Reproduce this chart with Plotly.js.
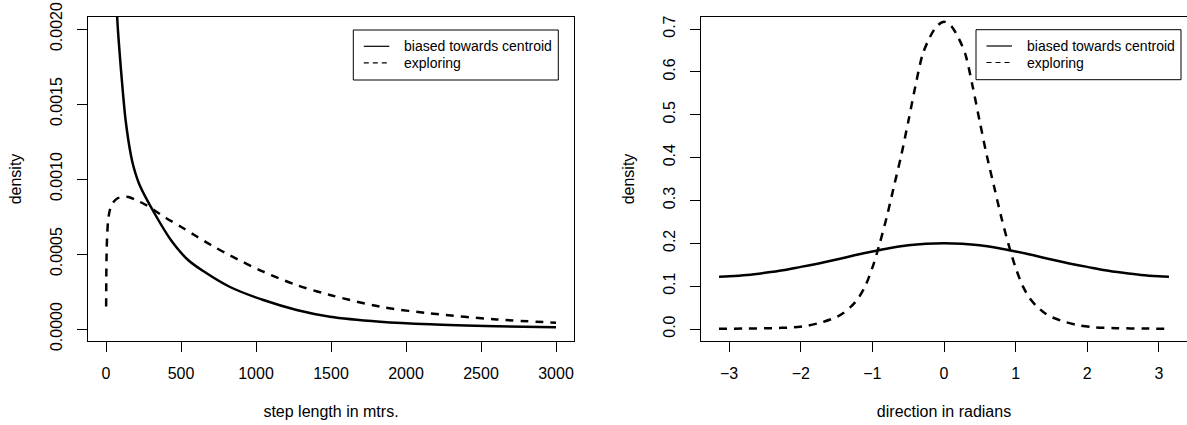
<!DOCTYPE html>
<html>
<head>
<meta charset="utf-8">
<script src="https://cdn.plot.ly/plotly-3.0.1.min.js"></script>
<style>
  html, body { margin: 0; padding: 0; background: #fff; }
  #chart { width: 1187px; height: 425px; }
</style>
</head>
<body>
<div id="chart"></div>
<script>
// ---- Left panel: step length densities ----
var stepBiasedX = [62, 75.5, 91, 109, 131, 164, 184, 224, 324, 435, 547, 658, 827, 1049, 1271, 1493, 1827, 2160, 2604, 3000];
var stepBiasedY = [0.00245, 0.00206, 0.00184, 0.00162, 0.00139, 0.00117, 0.00108, 0.00096, 0.00077, 0.00059, 0.00046, 0.00038, 0.00028, 0.000193, 0.000127, 0.000082, 0.000049, 0.000031, 0.000018, 0.000011];

var stepExploringX = [1, 2, 4, 8, 14, 25, 45, 75, 110, 150, 200, 260, 324, 400, 502, 600, 700, 827, 1049, 1271, 1493, 1827, 2160, 2604, 3000];
var stepExploringY = [0.00015, 0.00035, 0.00050, 0.00063, 0.00072, 0.00079, 0.00084, 0.00087, 0.00088, 0.00088, 0.00086, 0.00083, 0.00079, 0.00074, 0.00068, 0.00062, 0.00056, 0.00049, 0.000382, 0.000293, 0.000227, 0.000149, 0.000104, 0.000064, 0.000042];

// ---- Right panel: direction densities ----
var dirBiasedX = [-3.1416, -3.0, -2.75, -2.5, -2.25, -2.0, -1.75, -1.5, -1.25, -1.0, -0.75, -0.5, -0.25, 0, 0.25, 0.5, 0.75, 1.0, 1.25, 1.5, 1.75, 2.0, 2.25, 2.5, 2.75, 3.0, 3.1416];
var dirBiasedY = [0.122, 0.123, 0.126, 0.131, 0.137, 0.145, 0.153, 0.162, 0.172, 0.181, 0.189, 0.1955, 0.199, 0.200, 0.199, 0.1955, 0.189, 0.181, 0.172, 0.162, 0.153, 0.145, 0.137, 0.131, 0.126, 0.123, 0.122];

var dirExploringX = [-3.1416, -2.8, -2.4, -2.1, -1.9, -1.7, -1.5, -1.4, -1.3, -1.2, -1.1, -1.0, -0.9, -0.8, -0.7, -0.6, -0.5, -0.4, -0.3, -0.2, -0.1, 0, 0.1, 0.2, 0.3, 0.4, 0.5, 0.6, 0.7, 0.8, 0.9, 1.0, 1.1, 1.2, 1.3, 1.4, 1.5, 1.7, 1.9, 2.1, 2.4, 2.8, 3.1416];
var dirExploringY = [0.0007, 0.001, 0.002, 0.004, 0.008, 0.016, 0.028, 0.038, 0.052, 0.071, 0.100, 0.143, 0.198, 0.261, 0.332, 0.403, 0.483, 0.566, 0.640, 0.680, 0.707, 0.717, 0.707, 0.680, 0.640, 0.566, 0.483, 0.403, 0.332, 0.261, 0.198, 0.143, 0.100, 0.071, 0.052, 0.038, 0.028, 0.016, 0.008, 0.004, 0.002, 0.001, 0.0007];

// ---- Labels ----
var seriesNames = ['biased towards centroid', 'exploring'];
var leftXTicks = [0, 500, 1000, 1500, 2000, 2500, 3000];
var leftYTicks = [0.0000, 0.0005, 0.0010, 0.0015, 0.0020];
var rightXTicks = [-3, -2, -1, 0, 1, 2, 3];
var rightYTicks = [0.0, 0.1, 0.2, 0.3, 0.4, 0.5, 0.6, 0.7];
var leftXTitle = 'step length in mtrs.';
var rightXTitle = 'direction in radians';
var yTitle = 'density';

var FONT = 'Liberation Sans, Arial, Helvetica, sans-serif';
var LW = 2.5;
var DASH = '8px,7px';

var traces = [
  {x: stepBiasedX, y: stepBiasedY, xaxis: 'x', yaxis: 'y', mode: 'lines', name: seriesNames[0],
   line: {color: '#000', width: LW, shape: 'spline', smoothing: 0.9}},
  {x: stepExploringX, y: stepExploringY, xaxis: 'x', yaxis: 'y', mode: 'lines', name: seriesNames[1],
   line: {color: '#000', width: LW, dash: DASH, shape: 'spline', smoothing: 0.9}},
  {x: dirBiasedX, y: dirBiasedY, xaxis: 'x2', yaxis: 'y2', mode: 'lines', name: seriesNames[0],
   line: {color: '#000', width: LW, shape: 'spline', smoothing: 0.8}},
  {x: dirExploringX, y: dirExploringY, xaxis: 'x2', yaxis: 'y2', mode: 'lines', name: seriesNames[1],
   line: {color: '#000', width: LW, dash: DASH, shape: 'spline', smoothing: 0.8}}
];

var ML = 88, MR = 0, MT = 17, MB = 84;
var W = 1187, H = 425;
var PW = W - ML - MR, PH = H - MT - MB;
function px(xp) { return (xp - ML) / PW; }
function py(yp) { return 1 - (yp - MT) / PH; }

function axisBase() {
  return {
    showgrid: false, zeroline: false, showline: true, mirror: true,
    linecolor: '#000', linewidth: 1,
    ticks: 'outside', ticklen: 10, tickwidth: 1, tickcolor: '#000',
    tickfont: {family: FONT, size: 16, color: '#000'},
    fixedrange: true, automargin: false
  };
}
function titleObj(text, standoff) {
  return {text: text, standoff: standoff, font: {family: FONT, size: 16, color: '#000'}};
}

var xaxis = Object.assign(axisBase(), {
  domain: [0, px(574)], range: [-120, 3120], tickvals: leftXTicks,
  ticktext: leftXTicks.map(String), anchor: 'y', ticklabelstandoff: 8,
  title: titleObj(leftXTitle, 24)
});
var yaxis = Object.assign(axisBase(), {
  domain: [0, 1], range: [-0.00008, 0.00208], tickvals: leftYTicks,
  ticktext: leftYTicks.map(function(v){return v.toFixed(4);}), tickangle: -90, anchor: 'x',
  ticklabelstandoff: 9,
  title: titleObj(yTitle, 21)
});
var xaxis2 = Object.assign(axisBase(), {
  domain: [px(701), 1], range: [-3.393, 3.393], tickvals: rightXTicks,
  ticktext: rightXTicks.map(function(v){return v < 0 ? '\u2212' + Math.abs(v) : String(v);}), anchor: 'y2',
  ticklabelstandoff: 8,
  title: titleObj(rightXTitle, 24)
});
var yaxis2 = Object.assign(axisBase(), {
  domain: [0, 1], range: [-0.028, 0.728], tickvals: rightYTicks,
  ticktext: rightYTicks.map(function(v){return v.toFixed(1);}), tickangle: -90, anchor: 'x2',
  ticklabelstandoff: 9,
  title: titleObj(yTitle, 21)
});

// ---- Legends (box, key lines and texts), placed in pixels ----
var shapes = [], annotations = [];
function addLegend(left, top) {
  var w = 205, h = 50, rows = [top + 16.3, top + 32.8];
  shapes.push({type: 'rect', xref: 'paper', yref: 'paper',
    x0: px(left), x1: px(left + w), y0: py(top), y1: py(top + h),
    line: {color: '#000', width: 1}, fillcolor: '#fff', layer: 'above'});
  [null, '5px,4px'].forEach(function(d, i) {
    shapes.push({type: 'line', xref: 'paper', yref: 'paper',
      x0: px(left + 10.5), x1: px(left + 36), y0: py(rows[i]), y1: py(rows[i]),
      line: {color: '#000', width: 1.2, dash: d || 'solid'}, layer: 'above'});
    annotations.push({xref: 'paper', yref: 'paper', x: px(left + 48.5), y: py(rows[i]),
      xanchor: 'left', yanchor: 'middle', text: seriesNames[i], showarrow: false,
      font: {family: FONT, size: 14, color: '#000'}});
  });
}
addLegend(353.3, 30);
addLegend(976, 29.7);

var layout = {
  width: W, height: H,
  margin: {l: ML, r: MR, t: MT, b: MB, pad: 0},
  paper_bgcolor: '#fff', plot_bgcolor: '#fff',
  showlegend: false,
  xaxis: xaxis, yaxis: yaxis, xaxis2: xaxis2, yaxis2: yaxis2,
  shapes: shapes, annotations: annotations,
  font: {family: FONT, color: '#000'}
};

Plotly.newPlot('chart', traces, layout, {displayModeBar: false, staticPlot: true});
</script>
</body>
</html>
